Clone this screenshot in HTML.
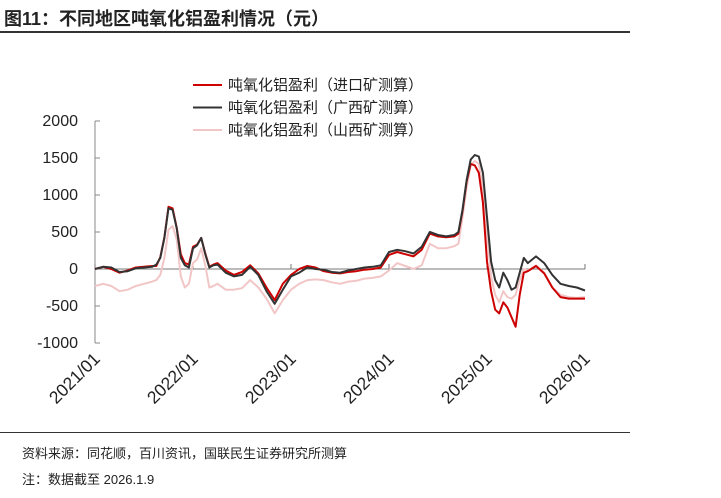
<!DOCTYPE html>
<html><head><meta charset="utf-8"><style>
html,body{margin:0;padding:0;background:#fff;}
body{width:721px;height:498px;position:relative;font-family:"Liberation Sans","Noto Sans CJK SC",sans-serif;overflow:hidden}
.t{position:absolute;white-space:nowrap}
</style></head><body>
<div class="t" style="left:4px;top:5px;font-size:18px;font-weight:bold;color:#222">图11：不同地区吨氧化铝盈利情况（元）</div>
<div style="position:absolute;left:0;top:31px;width:630px;height:2px;background:#333"></div>
<div style="position:absolute;left:0;top:432px;width:630px;height:1px;background:#333"></div>
<div class="t" style="left:22px;top:443px;font-size:13px;color:#222">资料来源：同花顺，百川资讯，国联民生证券研究所测算</div>
<div class="t" style="left:22px;top:469px;font-size:13px;color:#222">注：数据截至 2026.1.9</div>
<svg id="chart" width="721" height="498" style="position:absolute;left:0;top:0" xmlns="http://www.w3.org/2000/svg"></svg>
<script>
const months=[0,1,2,3,4,5,6,7,7.5,8,8.5,9,9.5,10,10.5,11,11.5,12,12.5,13,13.5,14,14.5,15,16,17,18,19,20,21,22,23,24,25,26,27,28,29,30,31,32,33,34,35,36,37,38,39,40,41,42,43,44,44.5,45,45.5,46,46.5,47,47.5,48,48.5,49,49.5,50,50.5,51,51.5,52,52.5,53,54,55,56,57,58,59,60];
const importOre=[0,30,0,-50,-20,20,30,40,40,160,430,840,820,560,200,80,60,300,330,420,210,30,60,80,-20,-80,-40,50,-60,-250,-420,-200,-80,0,40,20,-30,-50,-60,-40,-30,-10,0,20,190,230,200,170,260,480,440,430,440,480,780,1180,1420,1400,1300,900,100,-300,-550,-600,-450,-520,-650,-780,-350,-50,-30,40,-60,-250,-380,-400,-400,-400];
const guangxi=[0,30,20,-40,-30,10,20,30,60,150,420,820,800,550,150,50,20,280,320,420,200,20,50,60,-50,-100,-80,30,-80,-300,-470,-280,-100,-50,20,0,-10,-40,-50,-20,0,20,30,50,230,260,240,210,300,500,460,440,460,500,800,1200,1480,1540,1520,1300,700,100,-150,-250,-50,-150,-280,-250,-50,150,80,170,80,-80,-200,-230,-250,-290];
const shanxi=[-230,-200,-230,-300,-280,-230,-200,-170,-150,-80,150,530,580,400,-100,-250,-200,80,130,280,50,-250,-230,-200,-280,-280,-260,-150,-250,-400,-600,-420,-280,-200,-150,-140,-150,-180,-200,-170,-160,-130,-120,-100,-20,80,40,0,50,340,280,280,310,340,700,1100,1400,1460,1420,1100,500,-100,-350,-450,-300,-380,-400,-350,-150,0,-20,50,-50,-250,-350,-380,-390,-380];
const yTicks=[2000,1500,1000,500,0,-500,-1000];
const xTickLabels=["2021/01","2022/01","2023/01","2024/01","2025/01","2026/01"];
const xTickMonths=[0,12,24,36,48,60];
const legendLabels=["吨氧化铝盈利（进口矿测算）","吨氧化铝盈利（广西矿测算）","吨氧化铝盈利（山西矿测算）"];

const NS="http://www.w3.org/2000/svg";
const svg=document.getElementById('chart');
const X=m=>95+m*(490/60);
const Y=v=>269-v*(148/2000);
function mk(tag,attrs,parent){const e=document.createElementNS(NS,tag);for(const k in attrs)e.setAttribute(k,attrs[k]);(parent||svg).appendChild(e);return e;}
let ya=mk('line',{x1:95,y1:121,x2:95,y2:343,stroke:'#888','stroke-width':1});


yTicks.forEach(v=>{
  let tk=mk('line',{x1:95,y1:Y(v),x2:100,y2:Y(v),stroke:'#888'});
  
  
  let t=mk('text',{x:78,y:Y(v)+5,'text-anchor':'end','font-size':16,fill:'#222','font-family':'Liberation Sans, sans-serif'});
  t.textContent=v;
  
  
});
let xa=mk('line',{x1:95,y1:269,x2:585,y2:269,stroke:'#777','stroke-width':1});


xTickMonths.forEach((m,i)=>{
  let tk=mk('line',{x1:X(m),y1:269,x2:X(m),y2:264,stroke:'#777'});
  
  
  let t=mk('text',{x:X(m)+6,y:360,'text-anchor':'end','font-size':17.5,fill:'#222','font-family':'Liberation Sans, sans-serif',transform:`rotate(-45 ${X(m)+6} 360)`});
  t.textContent=xTickLabels[i];
  
  
});
const series=[[shanxi,'#f2c6c6','series-shanxi'],[importOre,'#cc0000','series-import-ore'],[guangxi,'#333333','series-guangxi']];
series.forEach(([d,c,n])=>{
  const p=mk('polyline',{points:d.map((v,i)=>X(months[i]).toFixed(1)+','+Y(v).toFixed(1)).join(' '),fill:'none',stroke:c,'stroke-width':2,'stroke-linejoin':'round'});
  
  
});
const legColors=['#cc0000','#333333','#f2c6c6'];
legendLabels.forEach((l,i)=>{
  const y=85+i*22.5;
  const ln=mk('line',{x1:193,y1:y,x2:222,y2:y,stroke:legColors[i],'stroke-width':2});
  
  
  const t=mk('text',{x:228,y:y+5,'font-size':15,fill:'#222','font-family':'Liberation Sans, Noto Sans CJK SC, sans-serif'});
  t.textContent=l;
  
  
});
</script>
</body></html>
